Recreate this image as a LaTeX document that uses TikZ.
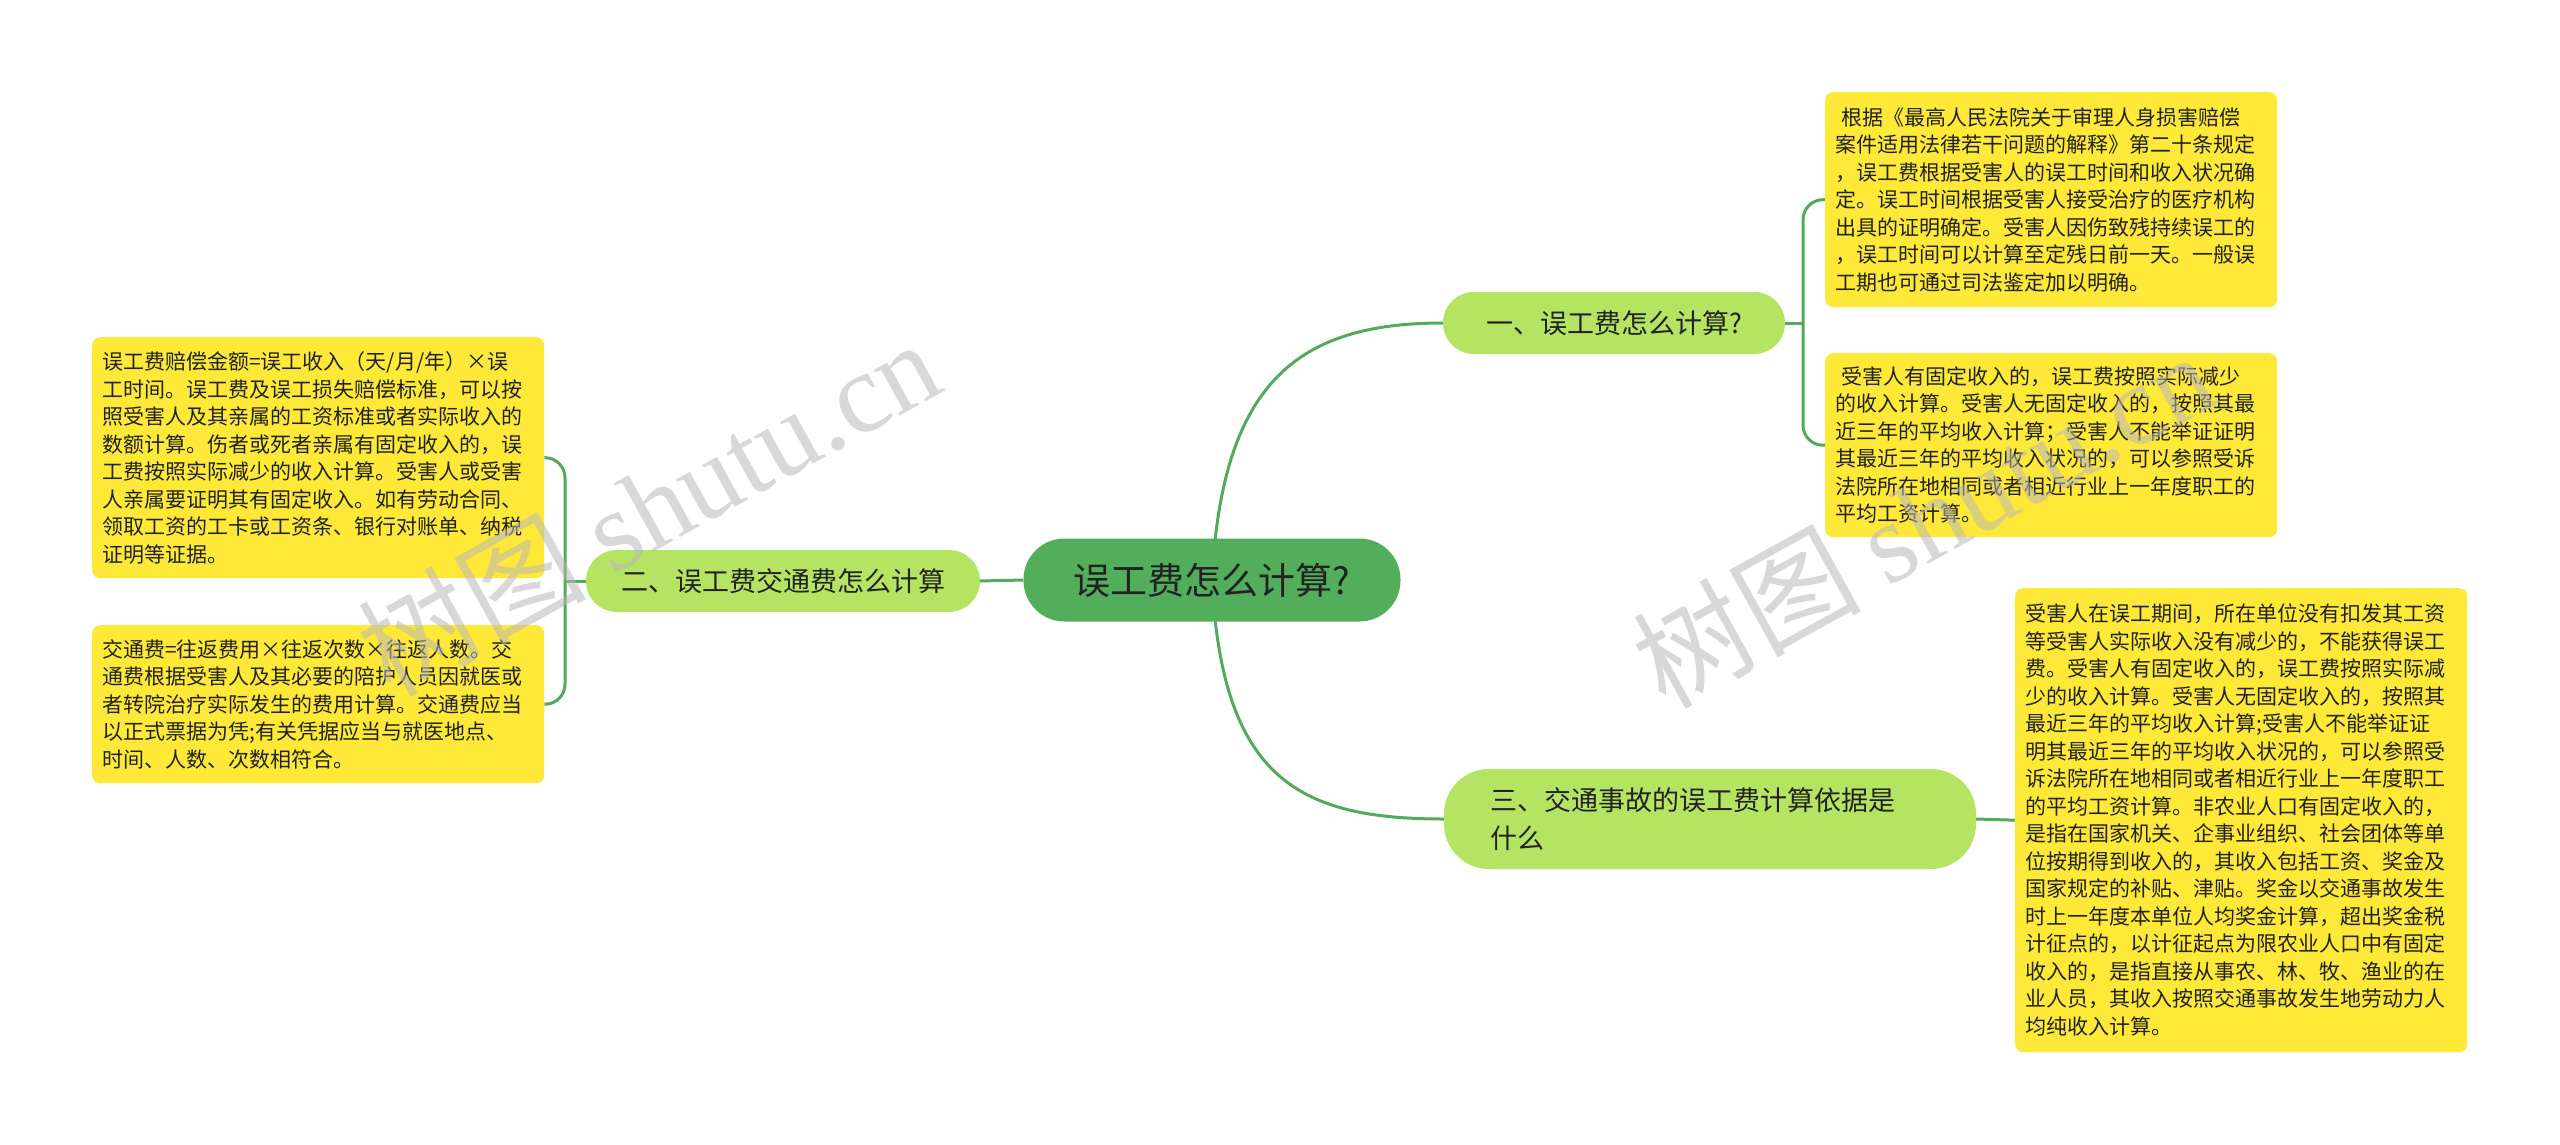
\documentclass[tikz,border=0pt]{standalone}
\usepackage{fontspec}
\setmainfont{Noto Sans CJK SC}
\newfontfamily\wmserif{Liberation Serif}
\usetikzlibrary{backgrounds}
\definecolor{rootgreen}{RGB}{82,174,90}
\definecolor{branchgreen}{RGB}{180,228,98}
\definecolor{leafyellow}{RGB}{255,233,56}
\definecolor{linegreen}{RGB}{84,170,92}
\definecolor{txt}{RGB}{34,34,34}
\begin{document}
\begin{tikzpicture}[x=1pt,y=1pt,
 rootnode/.style={fill=rootgreen, rounded corners=41pt, minimum width=377pt, minimum height=83pt, text=txt, font=\fontsize{37}{40}\selectfont, inner sep=0pt},
 branchnode/.style={fill=branchgreen, rounded corners=31pt, minimum height=62pt, text=txt, font=\fontsize{27}{38}\selectfont, inner sep=0pt},
 leafnode/.style={fill=leafyellow, rounded corners=8pt, anchor=north west, text width=432pt, inner xsep=10pt, inner ysep=0pt, align=left, text=txt, font=\fontsize{21}{27.5}\selectfont},
 conn/.style={draw=linegreen, line width=3pt},
 watermark/.style={text=black!28, opacity=0.55, rotate=29, font=\fontsize{114}{120}\selectfont}
]
\useasboundingbox (0,0) rectangle (2560,-1145);

% root and branches
\node[rootnode] (root) at (1212,-580) {误工费怎么计算?};
\node[branchnode, minimum width=342pt] (b1) at (1614,-323) {一、误工费怎么计算?\hspace{8pt}};
\node[branchnode, minimum width=394pt] (b2) at (783,-581) {二、误工费交通费怎么计算};
\node[branchnode, rounded corners=45pt, minimum height=100pt, text width=440pt, inner xsep=46pt, align=left] (b3) at (1710,-819) {三、交通事故的误工费计算依据是\\什么};

% leaves
\node[leafnode, minimum height=215pt] (l1) at (1825,-92) {\hspace{6pt}根据《最高人民法院关于审理人身损害赔偿\\案件适用法律若干问题的解释》第二十条规定\\，误工费根据受害人的误工时间和收入状况确\\定。误工时间根据受害人接受治疗的医疗机构\\出具的证明确定。受害人因伤致残持续误工的\\，误工时间可以计算至定残日前一天。一般误\\工期也可通过司法鉴定加以明确。};
\node[leafnode, minimum height=184pt] (l2) at (1825,-353) {\hspace{6pt}受害人有固定收入的，误工费按照实际减少\\的收入计算。受害人无固定收入的，按照其最\\近三年的平均收入计算；受害人不能举证证明\\其最近三年的平均收入状况的，可以参照受诉\\法院所在地相同或者相近行业上一年度职工的\\平均工资计算。};
\node[leafnode, minimum height=464pt] (l3) at (2015,-588) {受害人在误工期间，所在单位没有扣发其工资\\等受害人实际收入没有减少的，不能获得误工\\费。受害人有固定收入的，误工费按照实际减\\少的收入计算。受害人无固定收入的，按照其\\最近三年的平均收入计算;受害人不能举证证\\明其最近三年的平均收入状况的，可以参照受\\诉法院所在地相同或者相近行业上一年度职工\\的平均工资计算。非农业人口有固定收入的，\\是指在国家机关、企事业组织、社会团体等单\\位按期得到收入的，其收入包括工资、奖金及\\国家规定的补贴、津贴。奖金以交通事故发生\\时上一年度本单位人均奖金计算，超出奖金税\\计征点的，以计征起点为限农业人口中有固定\\收入的，是指直接从事农、林、牧、渔业的在\\业人员，其收入按照交通事故发生地劳动力人\\均纯收入计算。};
\node[leafnode, minimum height=241pt] (l4) at (92,-337) {误工费赔偿金额=误工收入（天/月/年）×误\\工时间。误工费及误工损失赔偿标准，可以按\\照受害人及其亲属的工资标准或者实际收入的\\数额计算。伤者或死者亲属有固定收入的，误\\工费按照实际减少的收入计算。受害人或受害\\人亲属要证明其有固定收入。如有劳动合同、\\领取工资的工卡或工资条、银行对账单、纳税\\证明等证据。};
\node[leafnode, minimum height=158pt] (l5) at (92,-625) {交通费=往返费用×往返次数×往返人数。交\\通费根据受害人及其必要的陪护人员因就医或\\者转院治疗实际发生的费用计算。交通费应当\\以正式票据为凭;有关凭据应当与就医地点、\\时间、人数、次数相符合。};

\coordinate (j1) at (1803,-323);
\coordinate (j2) at (565,-581);

\begin{scope}[on background layer]
\fill[white] (0,0) rectangle (2560,-1145);
\draw[conn] (root.center) .. controls (1222,-380) and (1300,-323) .. (b1.west);
\draw[conn] (root.center) .. controls (1222,-780) and (1300,-819) .. (b3.west);
\draw[conn] (root.west) -- (b2.east);
\draw[conn] (b1.east) -- (j1);
\draw[conn, rounded corners=20pt] (j1) |- (l1.west);
\draw[conn, rounded corners=20pt] (j1) |- (l2.west);
\draw[conn] (b2.west) -- (j2);
\draw[conn, rounded corners=20pt] (j2) |- (l4.east);
\draw[conn, rounded corners=20pt] (j2) |- (l5.east);
\draw[conn] (b3.east) -- (l3.west);
\end{scope}

% watermarks
\node[watermark] (wm1) at (648,-506) {树图 {\wmserif shutu.cn}};
\node[watermark] (wm2) at (1923,-518) {树图 {\wmserif shutu.cn}};
\end{tikzpicture}
\end{document}
